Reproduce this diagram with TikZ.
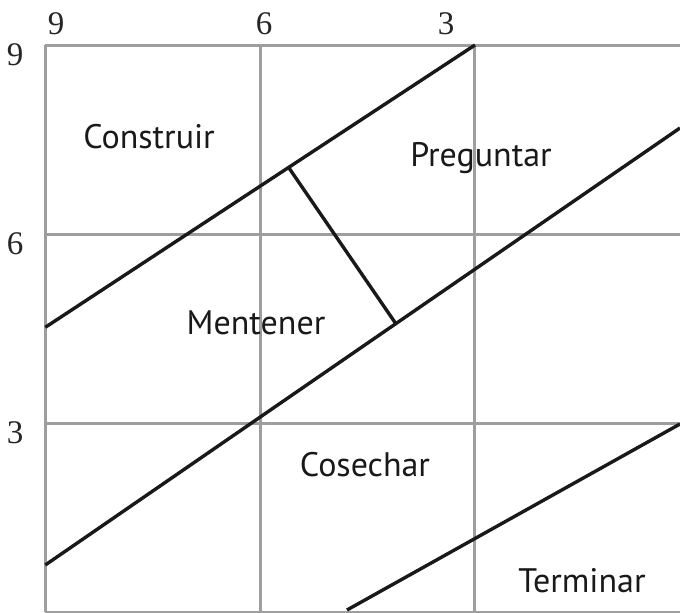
\documentclass[tikz,border=0pt]{standalone}
\usepackage{fontspec}
\setsansfont{PT Sans}
\setmainfont{Liberation Serif}
\begin{document}
\begin{tikzpicture}[x=1pt,y=-1pt,
  gridline/.style={draw=black!38,line width=3pt},
  mainline/.style={draw=black!90,line width=3.4pt},
  num/.style={font=\fontsize{33}{38}\selectfont,inner sep=0pt,text=black!85},
  lbl/.style={font=\sffamily\fontsize{34}{40}\selectfont,inner sep=0pt,text=black!90}]
\useasboundingbox (0,0) rectangle (680,613);
% grid
\draw[gridline] (45,45) -- (680,45);
\draw[gridline] (45,234) -- (680,234);
\draw[gridline] (45,423) -- (680,423);
\draw[gridline] (45,612) -- (680,612);
\draw[gridline] (45,45) -- (45,612);
\draw[gridline] (260,45) -- (260,612);
\draw[gridline] (474,45) -- (474,612);
% axis numbers
\node[num] (t9) at (56,24) {9};
\node[num] (t6) at (264,24) {6};
\node[num] (t3) at (446,24) {3};
\node[num] (l9) at (15,55) {9};
\node[num] (l6) at (15,244) {6};
\node[num] (l3) at (15,433) {3};
% diagonal lines
\coordinate (a1) at (45.3,327.3);
\coordinate (a2) at (475,45);
\coordinate (b1) at (45.3,565);
\coordinate (b2) at (680,128);
\coordinate (c1) at (347,610);
\coordinate (c2) at (680,424);
\coordinate (p1) at (289,168);
\coordinate (p2) at (395.7,323.5);
\draw[mainline] (a1) -- (a2);
\draw[mainline] (b1) -- (b2);
\draw[mainline] (c1) -- (c2);
\draw[mainline] (p1) -- (p2);
% labels
\node[lbl] (construir) at (149,137) {Construir};
\node[lbl] (preguntar) at (481,158) {Preguntar};
\node[lbl] (mentener) at (256,323) {Mentener};
\node[lbl] (cosechar) at (365,465) {Cosechar};
\node[lbl] (terminar) at (582,581) {Terminar};
\end{tikzpicture}
\end{document}
